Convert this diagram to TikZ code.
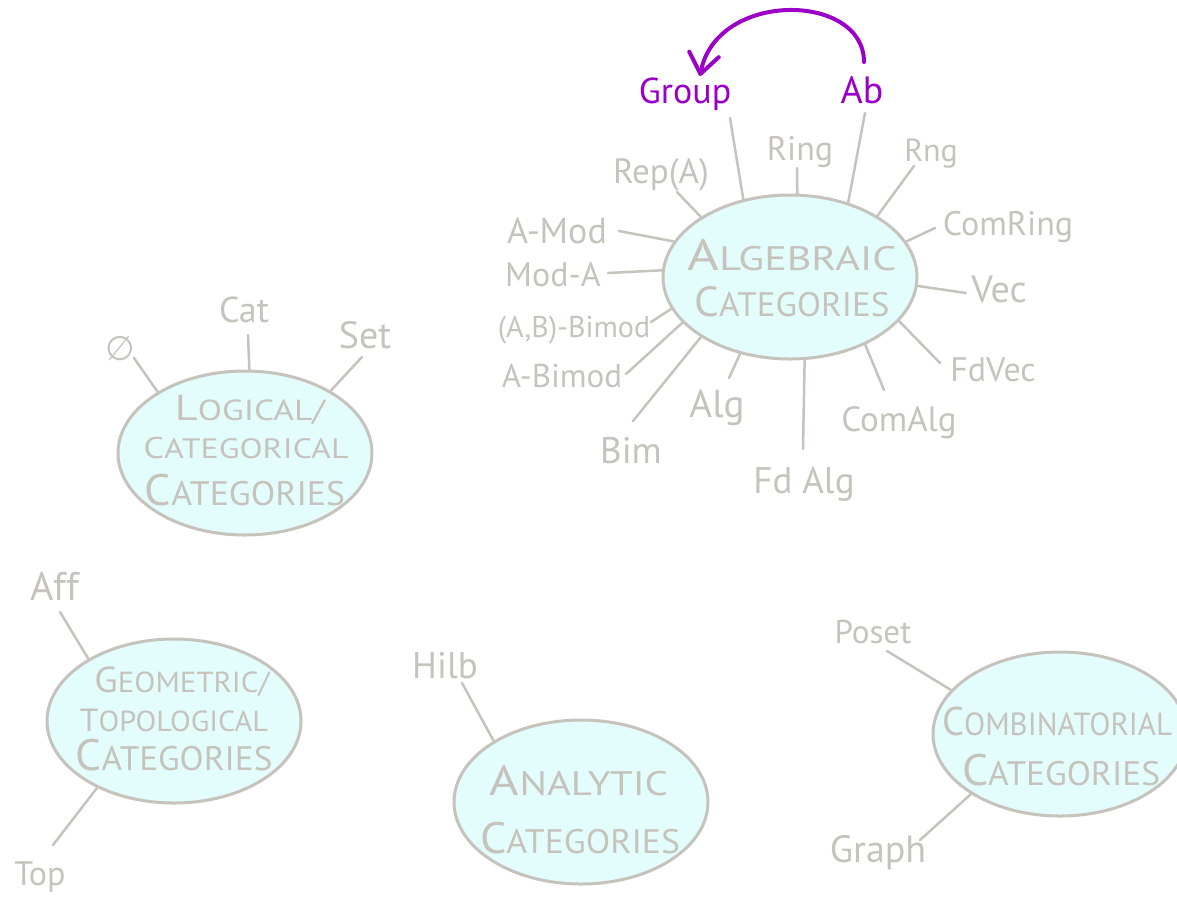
\documentclass[tikz,border=0pt]{standalone}
\usepackage{fontspec}
\usepackage{graphicx}
\setmainfont{PT Sans}
\newfontfamily\symbolfont{DejaVu Sans}
\usetikzlibrary{shapes.geometric,arrows.meta}

\definecolor{inkgray}{RGB}{197,195,188}
\definecolor{bubble}{RGB}{227,252,252}
\definecolor{inkpurple}{RGB}{155,0,200}

% a caps line with an enlarged first letter, stretched to a given width
\newcommand\capline[5]{\resizebox{#1}{\height}{{\fontsize{#2}{#2}\selectfont #4}{\fontsize{#3}{#3}\selectfont #5}}}
\newcommand\fs[1]{\fontsize{#1}{#1}\selectfont}

\tikzset{
  catbubble/.style={ellipse, draw=inkgray, fill=bubble, line width=3pt,
    minimum width=254pt, minimum height=164pt, inner sep=0pt},
  lbl/.style={text=inkgray, anchor=base, inner sep=0pt, font=\fs{35}},
  plbl/.style={lbl, text=inkpurple},
  ttl/.style={text=inkgray, anchor=base, inner sep=0pt},
  spoke/.style={draw=inkgray, line width=2.5pt, line cap=round},
}

\begin{document}
\begin{tikzpicture}[x=1pt,y=-1pt]
\useasboundingbox (0,0) rectangle (1177,906);
\clip (0,0) rectangle (1177,906);

% ---------- category bubbles ----------
\node[catbubble] (alg) at (790,277) {};
\node[catbubble] (log) at (245,453) {};
\node[catbubble] (geo) at (174,721) {};
\node[catbubble] (ana) at (581,802) {};
\node[catbubble] (comb) at (1060,734) {};

% ---------- bubble titles ----------
\node[ttl] (algT1) at (792,270) {\capline{209pt}{44}{34}{A}{LGEBRAIC}};
\node[ttl] (algT2) at (792,316) {\capline{195pt}{42}{34}{C}{ATEGORIES}};

\node[ttl] (logT1) at (250,420) {\capline{150pt}{36}{29}{L}{OGICAL/}};
\node[ttl] (logT2) at (246,458) {\capline{205pt}{30}{28}{C}{ATEGORICAL}};
\node[ttl] (logT3) at (245,505) {\capline{200pt}{44}{34}{C}{ATEGORIES}};

\node[ttl] (geoT1) at (182,692) {\capline{175pt}{36}{29}{G}{EOMETRIC/}};
\node[ttl] (geoT2) at (174,731) {\capline{188pt}{32}{29}{T}{OPOLOGICAL}};
\node[ttl] (geoT3) at (174,770) {\capline{197pt}{44}{34}{C}{ATEGORIES}};

\node[ttl] (anaT1) at (579,795) {\capline{178pt}{42}{34}{A}{NALYTIC}};
\node[ttl] (anaT2) at (580,853) {\capline{200pt}{44}{34}{C}{ATEGORIES}};

\node[ttl] (combT1) at (1057,735) {\capline{230pt}{40}{32}{C}{OMBINATORIAL}};
\node[ttl] (combT2) at (1061,785) {\capline{198pt}{44}{34}{C}{ATEGORIES}};

% ---------- algebraic spokes ----------
\node[plbl, font=\fs{36}] (group) at (685,103) {Group};
\node[plbl, font=\fs{38}] (ab) at (862,103) {Ab};
\node[lbl, font=\fs{34}] (ring) at (800,160) {Ring};
\node[lbl, font=\fs{35}] (repa) at (661,183) {Rep(A)};
\node[lbl, font=\fs{32}] (rng) at (931,161) {Rng};
\node[lbl, font=\fs{36}] (amod) at (557,243) {A-Mod};
\node[lbl, font=\fs{34}] (comring) at (1008,235) {ComRing};
\node[lbl, font=\fs{34}] (moda) at (553,286) {Mod-A};
\node[lbl, font=\fs{38}] (vec) at (999,302) {Vec};
\node[lbl, font=\fs{30}] (abbimod) at (574,337) {(A,B)-Bimod};
\node[lbl, font=\fs{33}] (abimod) at (562,387) {A-Bimod};
\node[lbl, font=\fs{37}] (bim) at (631,463) {Bim};
\node[lbl, font=\fs{39}] (alglbl) at (717,417) {Alg};
\node[lbl, font=\fs{34}] (fdvec) at (993,381) {FdVec};
\node[lbl, font=\fs{35}] (comalg) at (899,431) {ComAlg};
\node[lbl, font=\fs{37}] (fdalg) at (804,493) {Fd Alg};

\coordinate (groupE) at (730,118);
\coordinate (abE) at (865,113);
\coordinate (ringE) at (797,168);
\coordinate (repaE) at (677,192);
\coordinate (rngE) at (914,166);
\coordinate (amodE) at (619,231);
\coordinate (comringE) at (935,228);
\coordinate (modaE) at (608,273);
\coordinate (vecE) at (966,293);
\coordinate (abbimodE) at (651,322);
\coordinate (abimodE) at (626,374);
\coordinate (bimE) at (633,421);
\coordinate (algE) at (729,378);
\coordinate (fdvecE) at (940,363);
\coordinate (comalgE) at (884,390);
\coordinate (fdalgE) at (803,449);

\draw[spoke] (groupE) -- (alg.121.4);
\draw[spoke] (abE) -- (alg.52.8);
\draw[spoke] (ringE) -- (alg.85.1);
\draw[spoke] (repaE) -- (alg.146.8);
\draw[spoke] (rngE) -- (alg.35.5);
\draw[spoke] (amodE) -- (alg.163.7);
\draw[spoke] (comringE) -- (alg.17.8);
\draw[spoke] (modaE) -- (alg.177.7);
\draw[spoke] (vecE) -- (alg.-4);
\draw[spoke] (abbimodE) -- (alg.-165.7);
\draw[spoke] (abimodE) -- (alg.-157.2);
\draw[spoke] (bimE) -- (alg.-146.3);
\draw[spoke] (algE) -- (alg.-123.7);
\draw[spoke] (fdvecE) -- (alg.-22.2);
\draw[spoke] (comalgE) -- (alg.-42.2);
\draw[spoke] (fdalgE) -- (alg.-80.9);

% Ab -> Group
\coordinate (abTop) at (864,62);
\coordinate (groupTop) at (700,76);
\draw[inkpurple, line width=4pt, line cap=round,
      -{Straight Barb[length=20pt, width=30pt, line width=4pt, round]}]
  (abTop) .. controls (864,-8) and (716,-10) .. (groupTop);

% ---------- logical spokes ----------
\node[lbl, font=\symbolfont\fs{34}] (empty) at (120,360) {∅};
\node[lbl, font=\fs{36}] (catlbl) at (244,322) {Cat};
\node[lbl, font=\fs{38}] (set) at (365,348) {Set};
\coordinate (emptyE) at (134,358);
\coordinate (catE) at (248,335);
\coordinate (setE) at (362,357);
\draw[spoke] (emptyE) -- (log.145);
\draw[spoke] (catE) -- (log.87.2);
\draw[spoke] (setE) -- (log.36.3);

% ---------- geometric spokes ----------
\node[lbl, font=\fs{40}] (aff) at (55,600) {Aff};
\node[lbl, font=\fs{34}] (top) at (40,885) {Top};
\coordinate (affE) at (60,612);
\coordinate (topE) at (53,845);
\draw[spoke] (affE) -- (geo.144);
\draw[spoke] (topE) -- (geo.-139.3);

% ---------- analytic spoke ----------
\node[lbl, font=\fs{37}] (hilb) at (445,678) {Hilb};
\coordinate (hilbE) at (462,683);
\draw[spoke] (hilbE) -- (ana.145.4);

% ---------- combinatorial spokes ----------
\node[lbl, font=\fs{33}] (poset) at (873,643) {Poset};
\node[lbl, font=\fs{38}] (graph) at (878,862) {Graph};
\coordinate (posetE) at (887,651);
\coordinate (graphE) at (920,840);
\draw[spoke] (posetE) -- (comb.158.3);
\draw[spoke] (graphE) -- (comb.-146.3);
\end{tikzpicture}
\end{document}
